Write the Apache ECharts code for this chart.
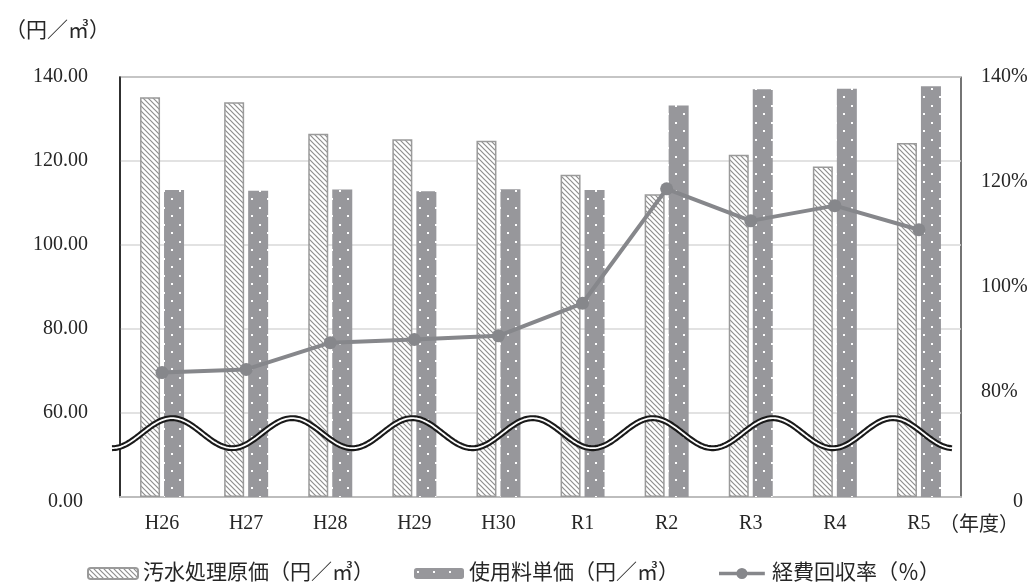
<!DOCTYPE html>
<html><head><meta charset="utf-8">
<script src="https://cdn.jsdelivr.net/npm/echarts@6/dist/echarts.min.js"></script>
<style>html,body{margin:0;padding:0;background:#fff}#c{width:1032px;height:586px}</style>
</head><body><div id="c"></div>
<script>
// ---- data ----
const categories = ['H26','H27','H28','H29','H30','R1','R2','R3','R4','R5'];
const treatmentCost = [135.2, 134.0, 126.5, 125.2, 124.8, 116.7, 112.1, 121.5, 118.7, 124.3]; // 汚水処理原価
const unitPrice     = [113.1, 112.9, 113.2, 112.8, 113.3, 113.1, 133.2, 137.1, 137.2, 137.8]; // 使用料単価
const recoveryRate  = [83.7, 84.3, 89.4, 90.0, 90.7, 96.9, 118.7, 112.6, 115.5, 110.9];       // 経費回収率
const leftTickValues  = [40, 60, 80, 100, 120, 140];
const leftTickLabels  = ['0.00', '60.00', '80.00', '100.00', '120.00', '140.00'];
const rightTickValues = [60, 80, 100, 120, 140];
const rightTickLabels = ['0', '80%', '100%', '120%', '140%'];
const seriesNames = ['汚水処理原価（円／㎥）', '使用料単価（円／㎥）', '経費回収率（％）'];

// ---- styling ----
const FONT = "'Liberation Serif','Noto Sans CJK JP',serif";
const TXT = '#262626';
const LINE_COLOR = '#86878b';
const GRID = {left: 120, right: 71, top: 77, bottom: 89};

function hatchPattern() {
  const c = document.createElement('canvas'); c.width = 5; c.height = 5;
  const g = c.getContext('2d');
  g.fillStyle = '#fff'; g.fillRect(0, 0, 5, 5);
  g.strokeStyle = '#8e8e8e'; g.lineWidth = 1.2;
  g.beginPath();
  g.moveTo(-1, -1); g.lineTo(6, 6);
  g.moveTo(-1, 4); g.lineTo(1, 6);
  g.moveTo(4, -1); g.lineTo(6, 1);
  g.stroke();
  return c;
}
function dotPattern() {
  const c = document.createElement('canvas'); c.width = 16; c.height = 17;
  const g = c.getContext('2d');
  g.fillStyle = '#97979b'; g.fillRect(0, 0, 16, 17);
  g.fillStyle = '#ffffff';
  g.fillRect(3, 3, 2, 2);
  g.fillRect(11, 11, 2, 2);
  return c;
}

const chart = echarts.init(document.getElementById('c'), null, {renderer: 'canvas'});
const lookup = (vals, labels, v) => { const i = vals.indexOf(v); return i >= 0 ? labels[i] : ''; };
// legend icon for the line series: thick line with a dot in the middle
const lineLegendIcon = 'path://M0 4 L50 4 L50 8 L0 8 Z M31 6 A6 6 0 1 1 19 6 A6 6 0 1 1 31 6 Z';

chart.setOption({
  animation: false,
  backgroundColor: '#fff',
  textStyle: {fontFamily: FONT, color: TXT},
  title: {
    text: '（円／㎥）', left: 0, top: 16,
    textStyle: {fontFamily: FONT, fontSize: 21, fontWeight: 'normal', color: TXT}
  },
  legend: {
    left: 82, top: 558, itemWidth: 50, itemHeight: 11, itemGap: 40,
    textStyle: {fontFamily: FONT, fontSize: 21, color: TXT},
    data: [
      {name: seriesNames[0]},
      {name: seriesNames[1]},
      {name: seriesNames[2], icon: lineLegendIcon, itemStyle: {color: LINE_COLOR, borderWidth: 0}}
    ]
  },
  grid: Object.assign({show: true, borderColor: '#1a1a1a', borderWidth: 1.2, containLabel: false}, GRID),
  xAxis: {
    type: 'category', data: categories,
    axisLine: {show: true, lineStyle: {color: '#bdbdbd', width: 2}},
    axisTick: {show: false},
    axisLabel: {fontFamily: FONT, fontSize: 20, color: TXT, margin: 17},
    name: '（年度）', nameLocation: 'end', nameGap: 18,
    nameTextStyle: {fontFamily: FONT, fontSize: 20, color: TXT, align: 'center', verticalAlign: 'top', padding: [19, 0, 0, 0]}
  },
  yAxis: [{
    type: 'value', min: 40, max: 140, interval: 20, startValue: 40,
    axisLine: {show: true, lineStyle: {color: '#1a1a1a', width: 1.5}},
    axisTick: {show: false},
    splitLine: {show: true, lineStyle: {color: '#d9d9d9', width: 1.5}},
    axisLabel: {
      fontFamily: FONT, fontSize: 20, color: TXT, margin: 32,
      formatter: v => v === 40 ? '{z|' + lookup(leftTickValues, leftTickLabels, v) + '}' : lookup(leftTickValues, leftTickLabels, v),
      rich: {z: {fontFamily: FONT, fontSize: 20, color: TXT, padding: [9, 5, 0, 0]}}
    }
  }, {
    type: 'value', min: 60, max: 140, interval: 20, position: 'right',
    axisLine: {show: false}, axisTick: {show: false}, splitLine: {show: false},
    axisLabel: {
      fontFamily: FONT, fontSize: 20, color: TXT, margin: 20, align: 'left',
      formatter: v => v === 60 ? '{z|' + lookup(rightTickValues, rightTickLabels, v) + '}' : lookup(rightTickValues, rightTickLabels, v),
      rich: {z: {fontFamily: FONT, fontSize: 20, color: TXT, padding: [9, 0, 0, 32]}}
    }
  }],
  series: [{
    name: seriesNames[0], type: 'bar', yAxisIndex: 0, data: treatmentCost,
    barWidth: 20, barGap: '20%', clip: true,
    itemStyle: {color: {image: hatchPattern(), repeat: 'repeat'}, borderColor: '#9a9a9a', borderWidth: 1.5}
  }, {
    name: seriesNames[1], type: 'bar', yAxisIndex: 0, data: unitPrice,
    barWidth: 20, clip: true,
    itemStyle: {color: {image: dotPattern(), repeat: 'repeat'}, borderColor: '#97979b', borderWidth: 0}
  }, {
    name: seriesNames[2], type: 'line', yAxisIndex: 1, data: recoveryRate,
    symbol: 'circle', symbolSize: 13, z: 20,
    lineStyle: {color: LINE_COLOR, width: 4},
    itemStyle: {color: LINE_COLOR}
  }]
});

// ---- axis-break wave (decoration), placed from the axis scale ----
function drawWave() {
  const w = chart.getWidth();
  const x0 = GRID.left - 8, x1 = w - GRID.right - 8;
  const yc = chart.convertToPixel({yAxisIndex: 0}, 55.2);
  const amp = 15, periods = 7;
  const pts = [];
  for (let x = x0; x <= x1 + 0.01; x += 1.5) {
    const t = (x - x0) / (x1 - x0) * periods * 2 * Math.PI;
    pts.push([x, yc + amp * Math.cos(t)]);
  }
  chart.setOption({
    graphic: [
      {type: 'polyline', z: 50, shape: {points: pts}, style: {stroke: '#1a1a1a', lineWidth: 6, fill: null}},
      {type: 'polyline', z: 51, shape: {points: pts}, style: {stroke: '#ffffff', lineWidth: 1.8, fill: null}}
    ]
  });
}
drawWave();
</script>
</body></html>
